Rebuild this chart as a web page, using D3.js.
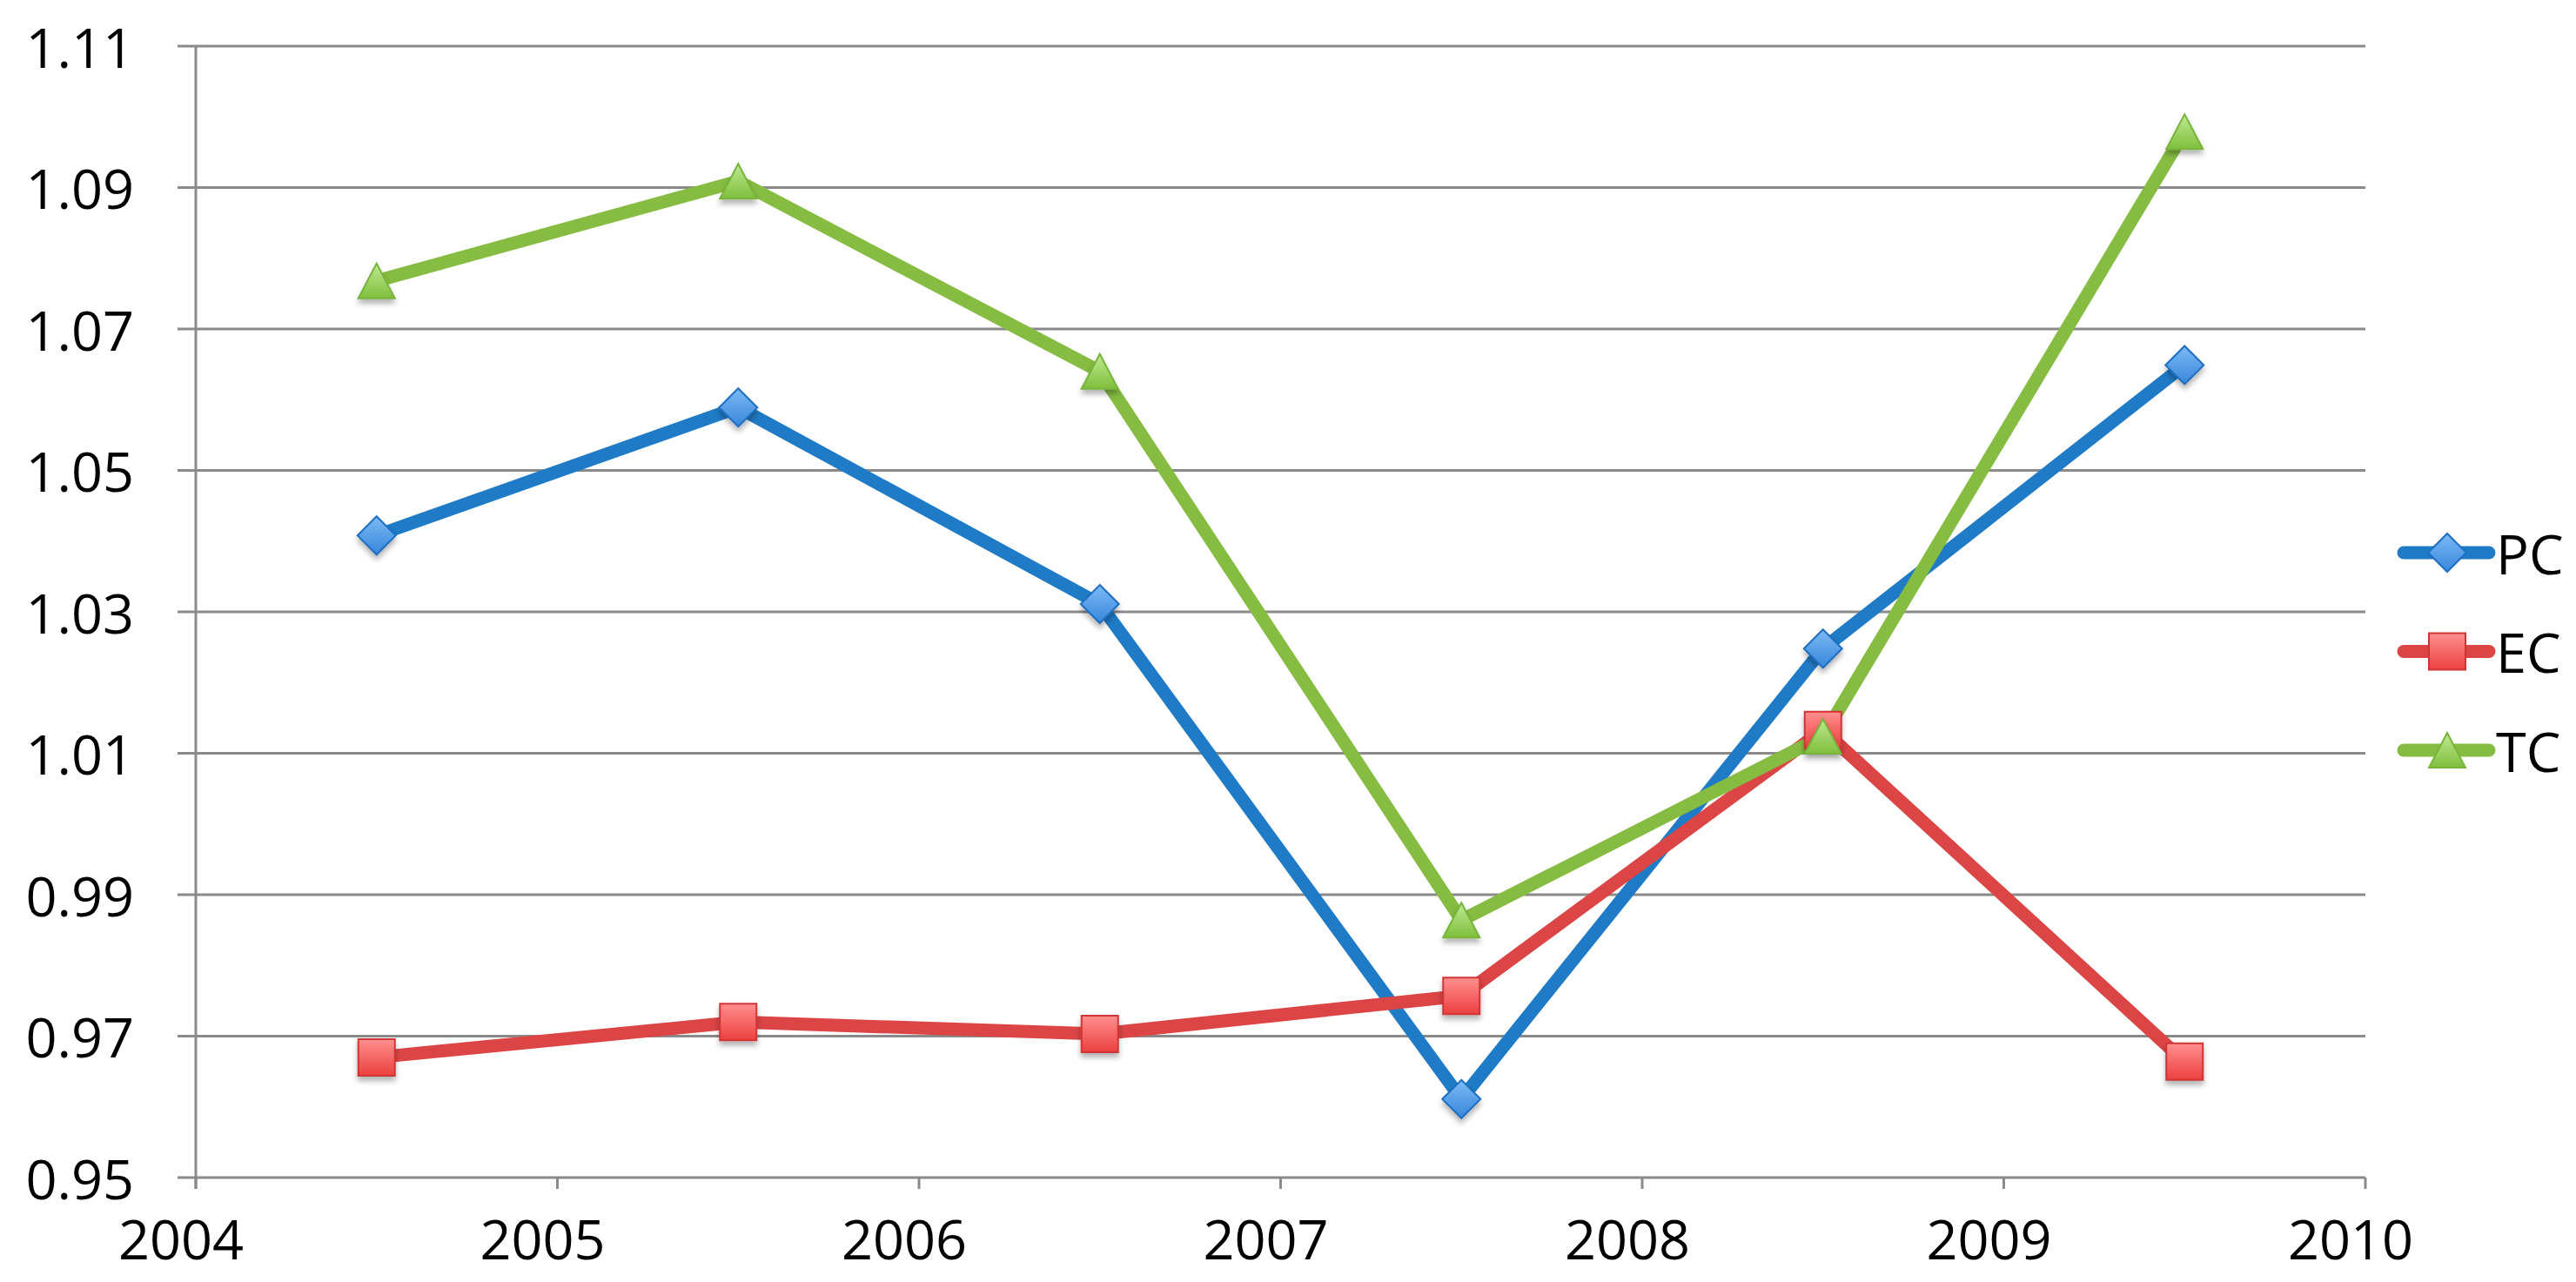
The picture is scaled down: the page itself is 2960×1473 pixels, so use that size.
<!DOCTYPE html>
<html>
<head>
<meta charset="utf-8">
<script src="https://cdn.jsdelivr.net/npm/d3@7"></script>
<style>
html,body{margin:0;padding:0;background:#fff;}
svg{display:block;}
text{font-family:"Open Sans",sans-serif;fill:#000;}
</style>
</head>
<body>
<svg id="chart" width="2960" height="1473"></svg>
<script>
// ---- data ----
const years = [2004.5, 2005.5, 2006.5, 2007.5, 2008.5, 2009.5];
const pcValues = [1.0408, 1.0589, 1.0311, 0.9611, 1.0248, 1.0649];
const ecValues = [0.9670, 0.9720, 0.9703, 0.9757, 1.0133, 0.9664];
const tcValues = [1.0768, 1.0909, 1.0640, 0.9864, 1.0124, 1.0979];
const seriesNames = ["PC", "EC", "TC"];
const xTickLabels = [2004, 2005, 2006, 2007, 2008, 2009, 2010];
const yTickLabels = [0.95, 0.97, 0.99, 1.01, 1.03, 1.05, 1.07, 1.09, 1.11];

// ---- styles ----
const styles = {
  PC: {line: "#1f7bc6", top: "#7cbaf4", bottom: "#3886dc", stroke: "#1d6ec0", shape: "diamond"},
  EC: {line: "#dc4545", top: "#ff8f8f", bottom: "#ec4040", stroke: "#cf3434", shape: "square"},
  TC: {line: "#86bc42", top: "#bfe993", bottom: "#7fbf3c", stroke: "#78b43a", shape: "triangle"}
};
const seriesData = [pcValues, ecValues, tcValues];

const svg = d3.select("#chart");
const x = d3.scaleLinear().domain([2004, 2010]).range([225, 2718]);
const y = d3.scaleLinear().domain([0.95, 1.11]).range([1353, 53]);
const gridColor = "#8a8a8a";

const defs = svg.append("defs");
const shadow = defs.append("filter").attr("id", "shadow")
  .attr("x", "-50%").attr("y", "-50%").attr("width", "200%").attr("height", "200%");
shadow.append("feDropShadow").attr("dx", 0).attr("dy", 5).attr("stdDeviation", 3)
  .attr("flood-color", "#000").attr("flood-opacity", 0.3);
seriesNames.forEach(n => {
  const g = defs.append("linearGradient").attr("id", "grad" + n)
    .attr("x1", 0).attr("y1", 0).attr("x2", 0).attr("y2", 1);
  g.append("stop").attr("offset", "0%").attr("stop-color", styles[n].top);
  g.append("stop").attr("offset", "100%").attr("stop-color", styles[n].bottom);
});

// gridlines + y ticks (extend left of axis)
svg.append("g").selectAll("line").data(yTickLabels).join("line")
  .attr("x1", 204).attr("x2", x(2010))
  .attr("y1", d => y(d)).attr("y2", d => y(d))
  .attr("stroke", gridColor).attr("stroke-width", 3);

// y axis line
svg.append("line").attr("x1", x(2004)).attr("x2", x(2004))
  .attr("y1", y(1.11)).attr("y2", y(0.95) + 13)
  .attr("stroke", gridColor).attr("stroke-width", 3);

// x ticks
svg.append("g").selectAll("line").data(xTickLabels).join("line")
  .attr("x1", d => x(d)).attr("x2", d => x(d))
  .attr("y1", y(0.95)).attr("y2", y(0.95) + 13)
  .attr("stroke", gridColor).attr("stroke-width", 3);

// y labels
svg.append("g").selectAll("text").data(yTickLabels).join("text")
  .attr("x", 154).attr("y", d => y(d))
  .attr("text-anchor", "end").attr("dominant-baseline", "central")
  .attr("font-size", 63)
  .text(d => d3.format(".2f")(d));

// x labels
svg.append("g").selectAll("text").data(xTickLabels).join("text")
  .attr("x", d => x(d) - 17).attr("y", 1447)
  .attr("text-anchor", "middle")
  .attr("font-size", 63)
  .text(d => d);

// marker shapes
function markerPath(shape) {
  const p = d3.path();
  if (shape === "diamond") {
    const r = 22;
    p.moveTo(0, -r); p.lineTo(r, 0); p.lineTo(0, r); p.lineTo(-r, 0); p.closePath();
  } else if (shape === "square") {
    const r = 21;
    p.rect(-r, -r, 2 * r, 2 * r);
  } else {
    const w = 21, h = 20;
    p.moveTo(0, -h); p.lineTo(w, h); p.lineTo(-w, h); p.closePath();
  }
  return p.toString();
}

const line = d3.line().x((d, i) => x(years[i])).y(d => y(d));

seriesNames.forEach((n, si) => {
  svg.append("path").datum(seriesData[si])
    .attr("d", line)
    .attr("fill", "none")
    .attr("stroke", styles[n].line)
    .attr("stroke-width", 15)
    .attr("stroke-linejoin", "round");
});
seriesNames.forEach((n, si) => {
  svg.append("g").selectAll("path").data(seriesData[si]).join("path")
    .attr("d", markerPath(styles[n].shape))
    .attr("transform", (d, i) => `translate(${x(years[i])},${y(d)})`)
    .attr("fill", `url(#grad${n})`)
    .attr("stroke", styles[n].stroke)
    .attr("stroke-width", 2)
    .attr("filter", "url(#shadow)");
});

// legend
const legendY = d3.scalePoint().domain(seriesNames).range([635, 862]);
const leg = svg.append("g").selectAll("g").data(seriesNames).join("g")
  .attr("transform", d => `translate(0,${legendY(d)})`);
leg.append("line").attr("x1", 2762).attr("x2", 2860).attr("y1", 0).attr("y2", 0)
  .attr("stroke", d => styles[d].line).attr("stroke-width", 15).attr("stroke-linecap", "round");
leg.append("path").attr("d", d => markerPath(styles[d].shape))
  .attr("transform", "translate(2812,0)")
  .attr("fill", d => `url(#grad${d})`)
  .attr("stroke", d => styles[d].stroke).attr("stroke-width", 2);
leg.append("text").attr("x", 2868).attr("y", 0)
  .attr("dominant-baseline", "central").attr("font-size", 63)
  .text(d => d);
</script>
</body>
</html>
